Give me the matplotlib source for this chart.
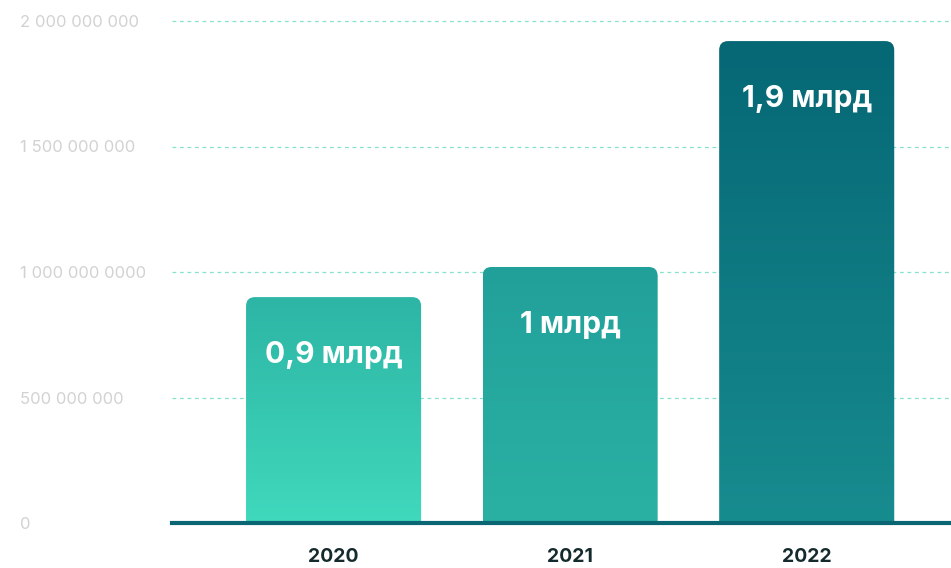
import matplotlib
matplotlib.use('Agg')
import matplotlib.pyplot as plt
import matplotlib.patches as patches
import matplotlib.colors as mcolors
import numpy as np

# chart data
years = ['2020', '2021', '2022']
values = [0.90e9, 1.02e9, 1.92e9]
value_labels = ['0,9 млрд', '1 млрд', '1,9 млрд']
ytick_values = [0, 500e6, 1000e6, 1500e6, 2000e6]
ytick_labels = ['0', '500 000 000', '1 000 000 0000', '1 500 000 000', '2 000 000 000']

# gradient colours per bar (top, bottom)
bar_top_colors = ['#2db5a5', '#21a09a', '#066775']
bar_bottom_colors = ['#40d9bc', '#2bb1a4', '#178c8f']

W, H, dpi = 951, 568, 100
fig = plt.figure(figsize=(W / dpi, H / dpi), dpi=dpi)
ax = fig.add_axes([172 / W, (H - 523) / H, 1 - 172 / W, 523 / H])

ax.set_xlim(-0.683, 2.61)
ax.set_ylim(0, 523 / 251 * 1e9)

bar_w = 0.74
x = np.arange(len(years))
for i, (xi, v) in enumerate(zip(x, values)):
    # rounded top, square bottom (the bottom rounding is pushed below y=0)
    clip = patches.FancyBboxPatch((xi - bar_w / 2, -0.2e9), bar_w, v + 0.2e9,
                                  boxstyle='round,pad=0,rounding_size=0.038',
                                  mutation_aspect=0.945e9,
                                  transform=ax.transData, facecolor='none', edgecolor='none')
    ax.add_patch(clip)
    cmap = mcolors.LinearSegmentedColormap.from_list('g%d' % i, [bar_bottom_colors[i], bar_top_colors[i]])
    grad = np.linspace(0, 1, 256).reshape(-1, 1)
    im = ax.imshow(grad, cmap=cmap, origin='lower', aspect='auto',
                   extent=(xi - bar_w / 2, xi + bar_w / 2, 0, v), zorder=2)
    im.set_clip_path(clip)
    ax.annotate(value_labels[i], (xi, v), xytext=(0, -42), textcoords='offset points',
                ha='center', va='center', color='white', fontsize=21.5, fontweight='bold',
                fontfamily='Inter', zorder=3)

ax.set_xlim(-0.683, 2.61)
ax.set_ylim(0, 523 / 251 * 1e9)

# grid lines
for yv in ytick_values[1:]:
    ax.axhline(yv, color='#86e2cc', linewidth=0.9, linestyle=(0, (3, 3)), zorder=1)

# baseline
ax.axhline(0, color='#0b6673', linewidth=3, zorder=4, clip_on=False)

for s in ax.spines.values():
    s.set_visible(False)

ax.set_xticks(x)
ax.set_xticklabels(years, fontsize=14, fontweight='bold', color='#142a2c', fontfamily='Inter')
ax.set_yticks(ytick_values)
ax.set_yticklabels(ytick_labels, fontsize=12, color='#d2d2d2', fontfamily='Inter')
ax.tick_params(axis='x', length=0, pad=18)
ax.tick_params(axis='y', length=0, pad=152 * 72 / dpi)
for lbl in ax.get_yticklabels():
    lbl.set_horizontalalignment('left')

fig.savefig('out.png', dpi=dpi)
